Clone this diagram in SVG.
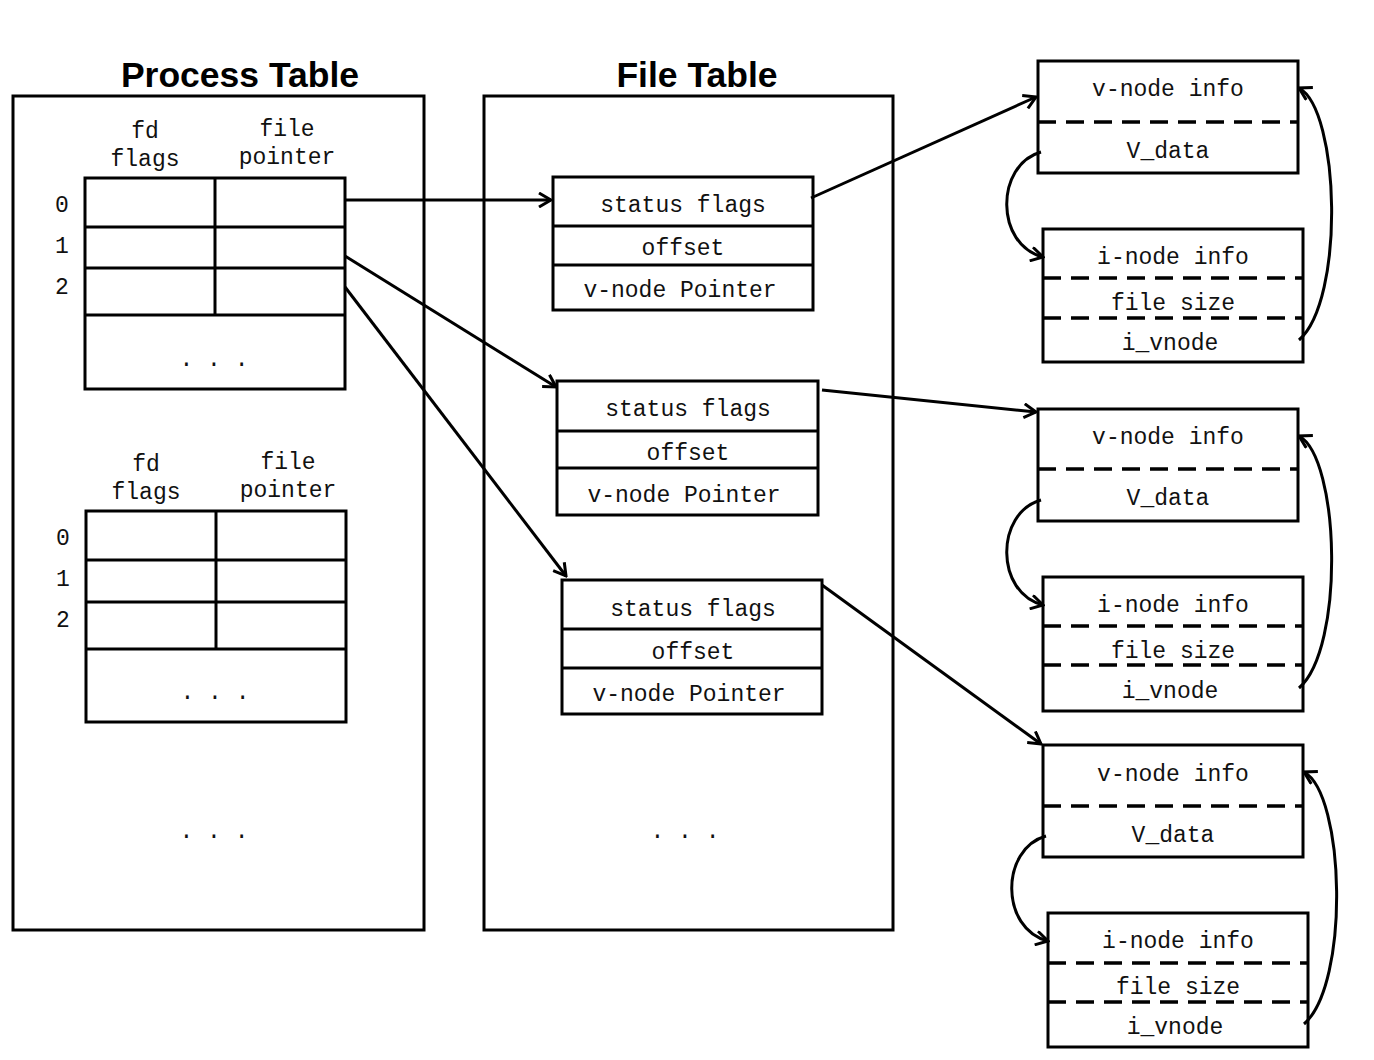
<svg xmlns="http://www.w3.org/2000/svg" width="1374" height="1060" viewBox="0 0 1374 1060">
<style>
.box{fill:#fff;stroke:#000;stroke-width:3}
.ln{stroke:#000;stroke-width:3;fill:none}
.dash{stroke:#000;stroke-width:3.5;stroke-dasharray:18 10;fill:none}
.m{font-family:"Liberation Mono","Courier New",monospace;font-size:23px;fill:#111;text-anchor:middle}
.n{font-family:"Liberation Mono","Courier New",monospace;font-size:23px;fill:#111;text-anchor:middle}
.t{font-family:"Liberation Sans",Arial,sans-serif;font-size:35.5px;font-weight:bold;fill:#000;text-anchor:middle}
.c{stroke:#000;stroke-width:3;fill:none;marker-end:url(#a)}
</style>
<defs>
<marker id="a" viewBox="0 0 16 16" refX="14" refY="8" markerWidth="16" markerHeight="16" markerUnits="userSpaceOnUse" orient="auto">
<path d="M2,1 L14,8 L2,15" fill="none" stroke="#000" stroke-width="3"/>
</marker>
</defs>
<rect width="1374" height="1060" fill="#fff"/>

<g id="process-table">
<text class="t" x="240" y="87">Process Table</text>
<rect class="box" x="13" y="96" width="411" height="834"/>
<text class="m" x="214" y="838">. . .</text>
</g>

<g id="fd-table-1">
<text class="m" x="145" y="138">fd</text>
<text class="m" x="145" y="166">flags</text>
<text class="m" x="287" y="136">file</text>
<text class="m" x="287" y="164">pointer</text>
<rect class="box" x="85" y="178" width="260" height="211"/>
<line class="ln" x1="85" y1="227" x2="345" y2="227"/>
<line class="ln" x1="85" y1="268" x2="345" y2="268"/>
<line class="ln" x1="85" y1="315" x2="345" y2="315"/>
<line class="ln" x1="215" y1="178" x2="215" y2="315"/>
<text class="n" x="62" y="212">0</text>
<text class="n" x="62" y="253">1</text>
<text class="n" x="62" y="294">2</text>
<text class="m" x="214" y="366">. . .</text>
</g>

<g id="fd-table-2">
<text class="m" x="146" y="471">fd</text>
<text class="m" x="146" y="499">flags</text>
<text class="m" x="288" y="469">file</text>
<text class="m" x="288" y="497">pointer</text>
<rect class="box" x="86" y="511" width="260" height="211"/>
<line class="ln" x1="86" y1="560" x2="346" y2="560"/>
<line class="ln" x1="86" y1="602" x2="346" y2="602"/>
<line class="ln" x1="86" y1="649" x2="346" y2="649"/>
<line class="ln" x1="216" y1="511" x2="216" y2="649"/>
<text class="n" x="63" y="545">0</text>
<text class="n" x="63" y="586">1</text>
<text class="n" x="63" y="627">2</text>
<text class="m" x="215" y="699">. . .</text>
</g>

<g id="file-table">
<text class="t" x="697" y="87">File Table</text>
<rect class="box" x="484" y="96" width="409" height="834"/>
<text class="m" x="685" y="838">. . .</text>
</g>

<g id="file-entry-1">
<rect class="box" x="553" y="177" width="260" height="133"/>
<line class="ln" x1="553" y1="226" x2="813" y2="226"/>
<line class="ln" x1="553" y1="265" x2="813" y2="265"/>
<text class="m" x="683" y="212">status flags</text>
<text class="m" x="683" y="255">offset</text>
<text class="m" x="680" y="297">v-node Pointer</text>
</g>

<g id="file-entry-2">
<rect class="box" x="557" y="381" width="261" height="134"/>
<line class="ln" x1="557" y1="431" x2="818" y2="431"/>
<line class="ln" x1="557" y1="468" x2="818" y2="468"/>
<text class="m" x="688" y="416">status flags</text>
<text class="m" x="688" y="460">offset</text>
<text class="m" x="684" y="502">v-node Pointer</text>
</g>

<g id="file-entry-3">
<rect class="box" x="562" y="580" width="260" height="134"/>
<line class="ln" x1="562" y1="629" x2="822" y2="629"/>
<line class="ln" x1="562" y1="668" x2="822" y2="668"/>
<text class="m" x="693" y="616">status flags</text>
<text class="m" x="693" y="659">offset</text>
<text class="m" x="689" y="701">v-node Pointer</text>
</g>

<g id="vnode-1">
<rect class="box" x="1038" y="61" width="260" height="112"/>
<line class="dash" x1="1038" y1="122" x2="1298" y2="122"/>
<text class="m" x="1168" y="96">v-node info</text>
<text class="m" x="1168" y="158">V_data</text>
</g>
<g id="inode-1">
<rect class="box" x="1043" y="229" width="260" height="133"/>
<line class="dash" x1="1043" y1="278" x2="1303" y2="278"/>
<line class="dash" x1="1043" y1="318" x2="1303" y2="318"/>
<text class="m" x="1173" y="264">i-node info</text>
<text class="m" x="1173" y="310">file size</text>
<text class="m" x="1170" y="350">i_vnode</text>
</g>

<g id="vnode-2">
<rect class="box" x="1038" y="409" width="260" height="112"/>
<line class="dash" x1="1038" y1="469" x2="1298" y2="469"/>
<text class="m" x="1168" y="444">v-node info</text>
<text class="m" x="1168" y="505">V_data</text>
</g>
<g id="inode-2">
<rect class="box" x="1043" y="577" width="260" height="134"/>
<line class="dash" x1="1043" y1="626" x2="1303" y2="626"/>
<line class="dash" x1="1043" y1="665" x2="1303" y2="665"/>
<text class="m" x="1173" y="612">i-node info</text>
<text class="m" x="1173" y="658">file size</text>
<text class="m" x="1170" y="698">i_vnode</text>
</g>

<g id="vnode-3">
<rect class="box" x="1043" y="745" width="260" height="112"/>
<line class="dash" x1="1043" y1="806" x2="1303" y2="806"/>
<text class="m" x="1173" y="781">v-node info</text>
<text class="m" x="1173" y="842">V_data</text>
</g>
<g id="inode-3">
<rect class="box" x="1048" y="913" width="260" height="134"/>
<line class="dash" x1="1048" y1="963" x2="1308" y2="963"/>
<line class="dash" x1="1048" y1="1002" x2="1308" y2="1002"/>
<text class="m" x="1178" y="948">i-node info</text>
<text class="m" x="1178" y="994">file size</text>
<text class="m" x="1175" y="1034">i_vnode</text>
</g>

<g id="connectors">
<path class="c" d="M345,200 L551,200"/>
<path class="c" d="M345,256 L556,387"/>
<path class="c" d="M345,287 L566,576"/>
<path class="c" d="M811,198 L1036,97"/>
<path class="c" d="M822,390 L1036,412"/>
<path class="c" d="M822,585 L1041,744"/>
<path class="c" d="M1041,152 C995,165 995,245 1043,257"/>
<path class="c" d="M1299,340 C1345,300 1340,110 1299,88"/>
<path class="c" d="M1041,500 C995,513 995,593 1043,605"/>
<path class="c" d="M1299,688 C1345,648 1340,458 1299,436"/>
<path class="c" d="M1046,836 C1000,849 1000,929 1048,941"/>
<path class="c" d="M1304,1024 C1350,984 1345,794 1304,772"/>
</g>
</svg>
